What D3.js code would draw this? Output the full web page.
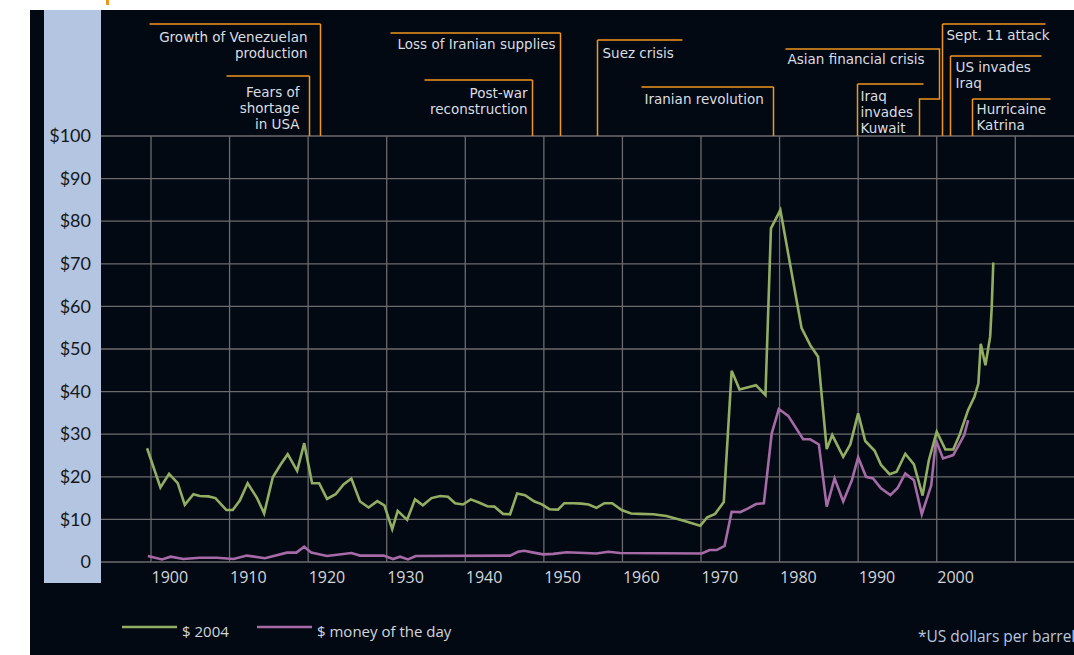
<!DOCTYPE html>
<html>
<head>
<meta charset="utf-8">
<script src="https://cdn.jsdelivr.net/npm/d3@7"></script>
<style>
    body { margin: 0; background: #ffffff; }
    svg { display: block; }
</style>
</head>
<body>
<svg id="oil-svg"></svg>
<script>
// oil price per barrel (year, value)
var price2004Years = [1899.5, 1901.2, 1902.3, 1903.4, 1904.3, 1905.4, 1906.2, 1907.3, 1908.2, 1909.6, 1910.4, 1911.3, 1912.3, 1913.5, 1914.4,
    1915.5, 1916.5, 1917.4, 1918.6, 1919.5, 1920.5, 1921.4, 1922.4, 1923.5, 1924.5, 1925.5, 1926.6, 1927.7, 1928.8, 1929.7,
    1930.7, 1931.4, 1932.6, 1933.6, 1934.6, 1935.7, 1936.8, 1937.8, 1938.7, 1939.7, 1940.7, 1941.8, 1942.8, 1943.7, 1944.8,
    1945.7, 1946.6, 1947.6, 1948.8, 1949.7, 1950.7, 1951.8, 1952.6, 1953.8, 1954.8, 1955.7, 1956.7, 1957.7, 1958.7, 1959.9,
    1961.1, 1962.2, 1963.9, 1965.6, 1967.8, 1969.9, 1970.8, 1971.8, 1972.9, 1973.9, 1974.9, 1977.0, 1978.2, 1978.9, 1980.1,
    1982.8, 1983.9, 1984.9, 1986.0, 1986.7, 1988.1, 1989.0, 1990.0, 1990.9, 1992.1, 1992.9, 1994.0, 1994.9, 1996.0, 1997.1,
    1998.2, 1999.0, 2000.0, 2001.1, 2002.1, 2002.9, 2004.0, 2004.8, 2005.3, 2005.6, 2006.2, 2006.8, 2007.0, 2007.2];
var price2004 = [26.7, 17.5, 20.7, 18.5, 13.4, 15.9, 15.5, 15.4, 15.0, 12.2, 12.2, 14.4, 18.5, 15.0, 11.4,
    19.9, 22.9, 25.3, 21.4, 27.9, 18.5, 18.5, 14.8, 15.9, 18.2, 19.6, 14.2, 12.8, 14.3, 13.3,
    7.7, 12.0, 9.9, 14.7, 13.3, 15.0, 15.5, 15.3, 13.8, 13.5, 14.7, 13.9, 13.1, 13.0, 11.3,
    11.2, 16.1, 15.7, 14.2, 13.6, 12.4, 12.3, 13.8, 13.8, 13.7, 13.5, 12.7, 13.8, 13.8, 12.2,
    11.4, 11.3, 11.2, 10.8, 9.7, 8.5, 10.5, 11.3, 14.1, 44.9, 40.5, 41.5, 39.2, 78.3, 82.6,
    54.9, 50.9, 48.2, 26.5, 29.8, 24.7, 27.6, 34.9, 28.4, 26.1, 22.8, 20.6, 21.2, 25.4, 22.9,
    15.6, 23.9, 30.6, 26.4, 26.4, 29.8, 35.7, 38.8, 41.9, 51.2, 46.2, 52.9, 59.9, 70.3];

var priceDayYears = [1899.6, 1901.4, 1902.5, 1904.1, 1906.2, 1908.4, 1910.5, 1912.2, 1914.5, 1917.3, 1918.5, 1919.5, 1920.4, 1922.4,
    1925.5, 1926.6, 1929.6, 1930.8, 1931.7, 1932.7, 1933.7, 1945.7, 1946.7, 1947.5, 1948.7, 1949.9, 1951.2, 1952.9, 1956.7,
    1958.2, 1959.7, 1970.1, 1971.1, 1972.0, 1973.0, 1973.9, 1975.0, 1976.0, 1977.0, 1978.0, 1979.0, 1979.9, 1981.1, 1983.0,
    1983.9, 1985.0, 1986.0, 1987.0, 1988.1, 1989.2, 1990.0, 1991.0, 1991.9, 1992.9, 1994.1, 1995.0, 1996.0, 1997.1, 1998.1,
    1999.3, 1999.9, 2000.8, 2002.1, 2003.5, 2004.0];
var priceDay = [1.4, 0.6, 1.25, 0.7, 1.0, 1.0, 0.7, 1.5, 0.9, 2.2, 2.2, 3.6, 2.2, 1.4,
    2.1, 1.5, 1.5, 0.7, 1.25, 0.6, 1.4, 1.5, 2.4, 2.65, 2.2, 1.8, 1.9, 2.3, 2.0,
    2.4, 2.1, 2.0, 2.8, 2.8, 3.8, 11.8, 11.7, 12.6, 13.6, 13.8, 30.2, 35.9, 34.3, 28.8,
    28.8, 27.6, 13.0, 19.6, 14.2, 19.2, 24.6, 20.0, 19.6, 17.3, 15.7, 17.3, 20.8, 19.2, 11.2,
    18.0, 28.6, 24.3, 25.1, 29.8, 33.3];

var yTicks = [0, 10, 20, 30, 40, 50, 60, 70, 80, 90, 100];
var xTicks = [1900, 1910, 1920, 1930, 1940, 1950, 1960, 1970, 1980, 1990, 2000, 2010];
var xTickLabels = ["1900", "1910", "1920", "1930", "1940", "1950", "1960", "1970", "1980", "1990", "2000", ""];

var seriesNames = ["$ 2004", "$ money of the day"];

// events: text lines and the year the bracket points at
var eventLabels = [
    ["Growth of Venezuelan", "production"],
    ["Fears of", "shortage", "in USA"],
    ["Loss of Iranian supplies"],
    ["Post-war", "reconstruction"],
    ["Suez crisis"],
    ["Iranian revolution"],
    ["Asian financial crisis"],
    ["Iraq", "invades", "Kuwait"],
    ["Sept. 11 attack"],
    ["US invades", "Iraq"],
    ["Hurricaine", "Katrina"]
];
var eventYears = [1921.5, 1920.1, 1952.1, 1948.5, 1956.8, 1979.2, 1997.7, 1989.9, 2000.7, 2001.7, 2004.5];

// bracket layout for each event (top y, start/end of the top rule relative to the stem, text offset)
var eventLayout = [
    {top: 24, from: -171, to: 0, dx: -13, anchor: "end", firstLine: 42},
    {top: 76, from: -83, to: 0, dx: -10, anchor: "end", firstLine: 97},
    {top: 33, from: -170, to: 0, dx: -5, anchor: "end", firstLine: 49},
    {top: 80, from: -108, to: 0, dx: -5, anchor: "end", firstLine: 98},
    {top: 40, from: 0, to: 85, dx: 5, anchor: "start", firstLine: 58},
    {top: 87, from: -132, to: 0, dx: -129, anchor: "start", firstLine: 104},
    {top: 49, from: -134, to: 20, dx: -132, anchor: "start", firstLine: 64, jog: 99},
    {top: 84, from: 0, to: 66, dx: 3, anchor: "start", firstLine: 101},
    {top: 24, from: 0, to: 103, dx: 4, anchor: "start", firstLine: 40},
    {top: 56, from: 0, to: 91, dx: 5, anchor: "start", firstLine: 72},
    {top: 99, from: 0, to: 78, dx: 4, anchor: "start", firstLine: 114}
];

var width = 1074, height = 655;
var plotLeft = 101, plotRight = 1074, plotTop = 136, plotBottom = 562;

var svg = d3.select("#oil-svg")
    .attr("width", width)
    .attr("height", height);

// background -----------------------------------------------------------------
svg.append("rect").attr("x", 0).attr("y", 0).attr("width", width).attr("height", height).attr("fill", "#ffffff");
svg.append("rect").attr("x", 106).attr("y", 0).attr("width", 3).attr("height", 5).attr("fill", "#f0961e");
svg.append("rect").attr("x", 30).attr("y", 10).attr("width", width - 30).attr("height", height - 10).attr("fill", "#020913");
svg.append("rect").attr("x", 44).attr("y", 10).attr("width", plotLeft - 44).attr("height", 573).attr("fill", "#b3c5e0");

// scales ---------------------------------------------------------------------
var x = d3.scaleLinear()
    .domain([1900, 2010])
    .range([151, 1015.3]);

var y = d3.scaleLinear()
    .domain([0, 100])
    .range([plotBottom, plotTop]);

// grid -----------------------------------------------------------------------
svg.append("g")
    .selectAll("line")
    .data(yTicks)
    .enter()
    .append("line")
    .attr("x1", plotLeft)
    .attr("x2", plotRight)
    .attr("y1", function(d) { return y(d); })
    .attr("y2", function(d) { return y(d); })
    .attr("stroke", "#6b6b6e")
    .attr("stroke-width", 1.3);

svg.append("g")
    .selectAll("line")
    .data(xTicks)
    .enter()
    .append("line")
    .attr("x1", function(d) { return x(d); })
    .attr("x2", function(d) { return x(d); })
    .attr("y1", plotTop)
    .attr("y2", plotBottom)
    .attr("stroke", "#6b6b6e")
    .attr("stroke-width", 1.3);

// axes labels ----------------------------------------------------------------
var yAxis = svg.append("g")
    .attr("transform", "translate(" + 91 + ",0)")
    .call(d3.axisLeft(y).tickValues(yTicks).tickSize(0).tickPadding(0)
        .tickFormat(function(d) { return d === 0 ? "0" : "$" + d; }));
yAxis.select(".domain").remove();
yAxis.selectAll("text")
    .style("font-family", "Lato, 'Open Sans', sans-serif")
    .style("font-size", "18px")
    .attr("fill", "#141820");

var xAxis = svg.append("g")
    .attr("transform", "translate(0," + 572 + ")")
    .call(d3.axisBottom(x).tickValues(xTicks).tickSize(0).tickPadding(0)
        .tickFormat(function(d, i) { return xTickLabels[i]; }));
xAxis.select(".domain").remove();
xAxis.selectAll("text")
    .style("font-family", "'Open Sans', sans-serif")
    .style("font-size", "16px")
    .style("text-anchor", "start")
    .attr("fill", "#d4d6da");

// lines ----------------------------------------------------------------------
var line = d3.line()
    .x(function(d) { return x(d[0]); })
    .y(function(d) { return y(d[1]); });

var greenData = price2004Years.map(function(d, i) { return [d, price2004[i]]; });
var purpleData = priceDayYears.map(function(d, i) { return [d, priceDay[i]]; });

svg.append("path")
    .datum(purpleData)
    .attr("d", line)
    .attr("fill", "none")
    .attr("stroke", "#a66aa6")
    .attr("stroke-width", 2.6)
    .attr("stroke-linejoin", "miter");

svg.append("path")
    .datum(greenData)
    .attr("d", line)
    .attr("fill", "none")
    .attr("stroke", "#93ae62")
    .attr("stroke-width", 2.6)
    .attr("stroke-linejoin", "miter");

// event brackets -------------------------------------------------------------
var ev = svg.append("g");
eventLabels.forEach(function(lines, i) {
    var lay = eventLayout[i];
    var sx = Math.round(x(eventYears[i])) + 0.5;
    var p;
    if (lay.jog) {
        // top rule ends on an upper stem that steps left to the event year
        p = "M" + (sx + lay.from) + "," + lay.top + "H" + (sx + lay.to) + "V" + lay.jog + "H" + sx + "V" + plotTop;
    } else {
        p = "M" + (sx + lay.from) + "," + lay.top + "H" + (sx + lay.to) + "M" + sx + "," + lay.top + "V" + plotTop;
    }
    ev.append("path")
        .attr("d", p)
        .attr("fill", "none")
        .attr("stroke", "#f0961e")
        .attr("stroke-width", 1.5);

    // one text element per line, 16px apart (DejaVu keeps the line boxes within that)
    lines.forEach(function(s, j) {
        ev.append("text")
            .attr("x", sx + lay.dx)
            .attr("y", lay.firstLine + j * 16)
            .attr("text-anchor", lay.anchor)
            .attr("fill", "#dcdde0")
            .style("font-family", "'DejaVu Sans', sans-serif")
            .style("font-size", "13.5px")
            .text(s);
    });
});

// legend ---------------------------------------------------------------------
var legendColors = ["#93ae62", "#a66aa6"];
var legendX = [122, 257];
var legend = svg.append("g");
seriesNames.forEach(function(name, i) {
    legend.append("line")
        .attr("x1", legendX[i]).attr("x2", legendX[i] + 55)
        .attr("y1", 627).attr("y2", 627)
        .attr("stroke", legendColors[i])
        .attr("stroke-width", 2.6);
    legend.append("text")
        .attr("x", legendX[i] + 60)
        .attr("y", 637)
        .attr("fill", "#d4d6da")
        .style("font-family", "'Open Sans', sans-serif")
        .style("font-size", "15px")
        .text(name);
});

svg.append("text")
    .attr("x", 918)
    .attr("y", 642)
    .attr("fill", "#b8c6dc")
    .style("font-family", "'Open Sans', sans-serif")
    .style("font-size", "15.5px")
    .text("*US dollars per barrel");
</script>
</body>
</html>
